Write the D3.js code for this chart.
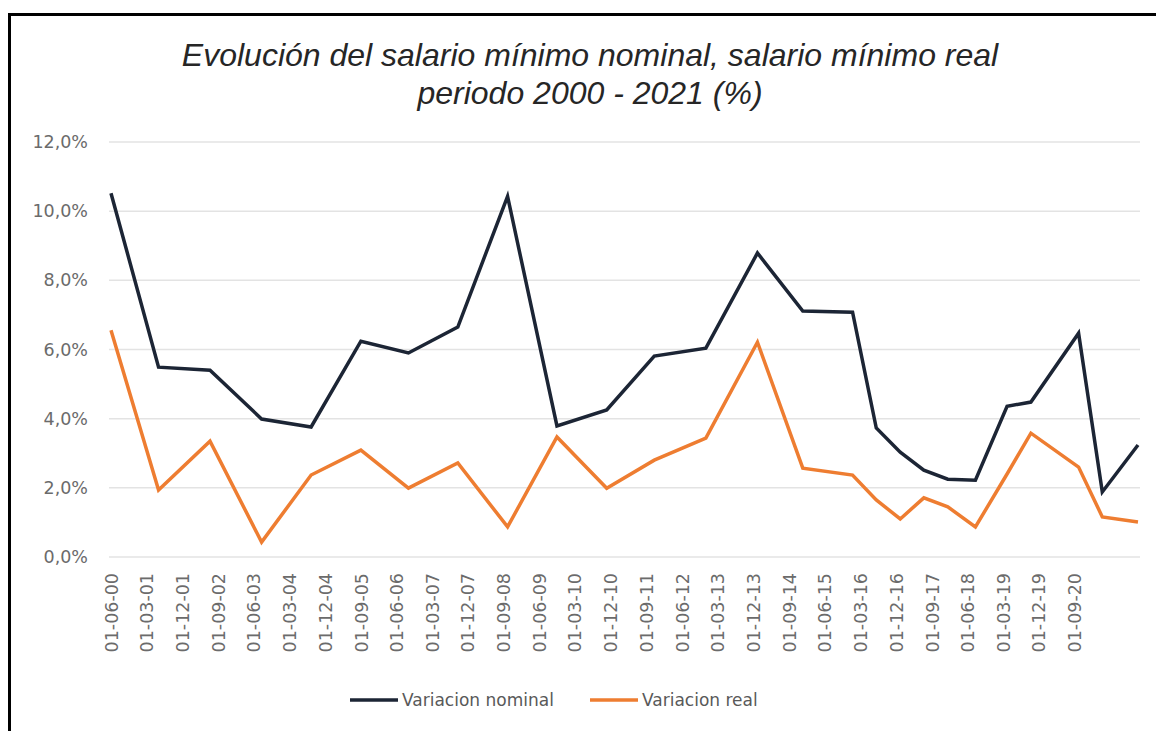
<!DOCTYPE html>
<html>
<head>
<meta charset="utf-8">
<script src="https://cdn.jsdelivr.net/npm/d3@7"></script>
<style>
  html, body { margin: 0; padding: 0; background: #ffffff; }
  svg { display: block; }
</style>
</head>
<body>
<svg id="chart" width="1156" height="731"></svg>
<script>
// ---- data ----
const dates = ["2000-06-01","2001-06-01","2002-07-01","2003-08-01","2004-08-15","2005-09-01",
  "2006-09-01","2007-09-15","2008-10-01","2009-10-15","2010-11-01","2011-11-01","2012-12-01",
  "2014-01-01","2014-12-15","2016-01-01","2016-07-01","2017-01-01","2017-07-01","2018-01-01",
  "2018-08-01","2019-04-01","2019-10-01","2020-10-01","2021-04-01","2021-12-31"];
const nominal = [10.52, 5.49, 5.40, 3.99, 3.76, 6.24, 5.90, 6.65, 10.43, 3.79, 4.25, 5.81, 6.04,
  8.79, 7.11, 7.08, 3.73, 3.03, 2.51, 2.25, 2.22, 4.36, 4.48, 6.47, 1.88, 3.24];
const real = [6.56, 1.94, 3.35, 0.43, 2.37, 3.09, 1.99, 2.72, 0.87, 3.47, 1.99, 2.80, 3.44,
  6.21, 2.57, 2.37, 1.65, 1.10, 1.71, 1.45, 0.87, 2.40, 3.58, 2.60, 1.16, 1.01];
const tickDates = ["2000-06-01","2001-03-01","2001-12-01","2002-09-01","2003-06-01","2004-03-01",
  "2004-12-01","2005-09-01","2006-06-01","2007-03-01","2007-12-01","2008-09-01","2009-06-01",
  "2010-03-01","2010-12-01","2011-09-01","2012-06-01","2013-03-01","2013-12-01","2014-09-01",
  "2015-06-01","2016-03-01","2016-12-01","2017-09-01","2018-06-01","2019-03-01","2019-12-01",
  "2020-09-01"];
const yTicks = [0, 2, 4, 6, 8, 10, 12];
const seriesNames = ["Variacion nominal", "Variacion real"];
const titleLines = ["Evolución del salario mínimo nominal, salario mínimo real", "periodo 2000 - 2021 (%)"];

// ---- setup ----
const parse = d3.timeParse("%Y-%m-%d");
const fmt = d3.timeFormat("%d-%m-%y");
const svg = d3.select("#chart");
const colors = ["#1c2535", "#ee7d31"];

// outer frame (top and left edges visible)
svg.append("line").attr("x1", 9.5).attr("x2", 1156).attr("y1", 14.5).attr("y2", 14.5)
  .attr("stroke", "#000").attr("stroke-width", 3);
svg.append("line").attr("x1", 9.5).attr("x2", 9.5).attr("y1", 13).attr("y2", 731)
  .attr("stroke", "#000").attr("stroke-width", 3);

const x = d3.scaleTime()
  .domain([parse(dates[0]), parse(dates[dates.length - 1])])
  .range([111, 1138]);
const y = d3.scaleLinear().domain([0, 12]).range([557, 142]);

// title
svg.append("g").selectAll("text").data(titleLines).join("text")
  .attr("x", 590)
  .attr("y", (d, i) => 66 + i * 38)
  .attr("text-anchor", "middle")
  .attr("font-family", "'Liberation Sans', Arial, sans-serif")
  .attr("font-style", "italic")
  .attr("font-size", 32)
  .attr("fill", "#262626")
  .text(d => d);

// gridlines
svg.append("g").selectAll("line").data(yTicks).join("line")
  .attr("x1", 109).attr("x2", 1140)
  .attr("y1", d => y(d)).attr("y2", d => y(d))
  .attr("stroke", "#e3e3e3").attr("stroke-width", 1.5);

// y axis labels
const yAxis = d3.axisLeft(y).tickValues(yTicks).tickSize(0).tickPadding(0)
  .tickFormat(d => d3.format(".1f")(d).replace(".", ",") + "%");
const gy = svg.append("g").attr("transform", "translate(88,0)").call(yAxis);
gy.select(".domain").remove();
gy.selectAll("text")
  .attr("font-family", "'DejaVu Sans', Verdana, sans-serif")
  .attr("font-size", 17.5)
  .attr("fill", "#6b6b6b");

// x axis labels
const xAxis = d3.axisBottom(x).tickValues(tickDates.map(parse)).tickSize(0).tickFormat(fmt);
const gx = svg.append("g").attr("transform", "translate(0,573)").call(xAxis);
gx.select(".domain").remove();
gx.selectAll("text")
  .attr("font-family", "'DejaVu Sans', Verdana, sans-serif")
  .attr("font-size", 17.5)
  .attr("fill", "#6b6b6b")
  .attr("text-anchor", "end")
  .attr("transform", "rotate(-90)")
  .attr("x", 0).attr("y", 0).attr("dy", "0.35em");

// lines
const rows = dates.map((d, i) => ({ date: parse(d), nominal: nominal[i], real: real[i] }));
const line = key => d3.line().x(d => x(d.date)).y(d => y(d[key]));
svg.append("path").datum(rows).attr("d", line("real"))
  .attr("fill", "none").attr("stroke", colors[1]).attr("stroke-width", 3.5)
  .attr("stroke-linejoin", "miter");
svg.append("path").datum(rows).attr("d", line("nominal"))
  .attr("fill", "none").attr("stroke", colors[0]).attr("stroke-width", 3.5)
  .attr("stroke-linejoin", "miter");

// legend
const legendX = [350, 590];
const lg = svg.append("g").selectAll("g").data(seriesNames).join("g")
  .attr("transform", (d, i) => `translate(${legendX[i]},700)`);
lg.append("line").attr("x1", 0).attr("x2", 48).attr("y1", 0).attr("y2", 0)
  .attr("stroke", (d, i) => colors[i]).attr("stroke-width", 3.5);
lg.append("text").attr("x", 52).attr("y", 0).attr("dy", "0.35em")
  .attr("font-family", "'DejaVu Sans', Verdana, sans-serif")
  .attr("font-size", 17)
  .attr("fill", "#595959")
  .text(d => d);
</script>
</body>
</html>
